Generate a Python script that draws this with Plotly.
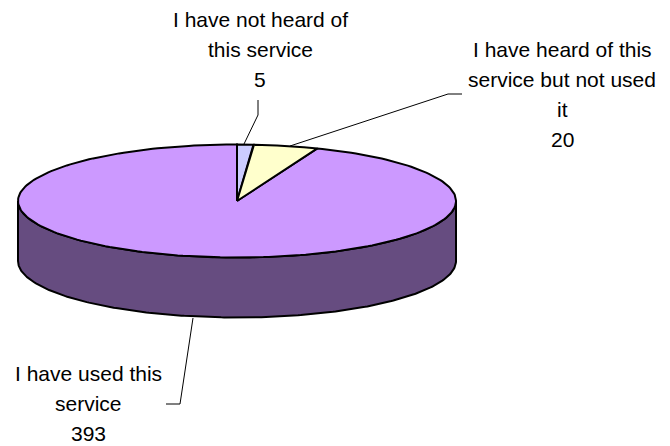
import numpy as np
import plotly.graph_objects as go

categories = ["I have not heard of this service",
              "I have heard of this service but not used it",
              "I have used this service"]
values = [5, 20, 393]
label_lines = [["I have not heard of", "this service"],
               ["I have heard of this", "service but not used", "it"],
               ["I have used this", "service"]]
colors = ["#CCCCFF", "#FFFFCC", "#CC99FF"]
side_color = "#664C80"

W, H = 670, 446
CX, CY, RX, RY, DEPTH = 237, 201, 219, 56.5, 60
OUTLINE = dict(color="black", width=2)


def rim(a0, a1, n=240, dy=0.0):
    t = np.linspace(a0, a1, n)
    return CX + RX * np.sin(t), CY + dy - RY * np.cos(t)


fig = go.Figure()

# side wall (front half of the rim, dropped by the pie's depth)
tx, ty = rim(np.pi / 2, 3 * np.pi / 2)
bx, by = rim(3 * np.pi / 2, np.pi / 2, dy=DEPTH)
fig.add_trace(go.Scatter(x=np.r_[tx, bx, tx[0]], y=np.r_[ty, by, ty[0]],
                         mode="lines", fill="toself", fillcolor=side_color,
                         line=OUTLINE, hoverinfo="skip", showlegend=False))

# top slices, clockwise from 12 o'clock
fractions = np.cumsum([0] + values) / sum(values) * 2 * np.pi
order = [2, 0, 1]
for i in order:
    ex, ey = rim(fractions[i], fractions[i + 1])
    fig.add_trace(go.Scatter(x=np.r_[CX, ex, CX], y=np.r_[CY, ey, CY],
                             mode="lines", fill="toself", fillcolor=colors[i],
                             line=OUTLINE, name=categories[i],
                             hoverinfo="skip", showlegend=False))

# leader lines
leaders = [[(258, 100), (258, 115), (244, 144)],
           [(462, 94), (448, 94), (290, 146)],
           [(193, 318), (180, 404), (166, 404)]]
for pts in leaders:
    fig.add_trace(go.Scatter(x=[p[0] for p in pts], y=[p[1] for p in pts],
                             mode="lines", line=dict(color="black", width=1),
                             hoverinfo="skip", showlegend=False))

# data labels, one annotation per line
label_pos = [(260, 19), (562, 49), (88, 373)]
for lines, val, (x, y) in zip(label_lines, values, label_pos):
    for k, s in enumerate(lines + [str(val)]):
        fig.add_annotation(x=x, y=y + 30 * k, text=s, showarrow=False,
                           xanchor="center", yanchor="middle",
                           font=dict(family="Liberation Sans, Arial, sans-serif",
                                     size=21, color="black"))

fig.update_layout(width=W, height=H, margin=dict(l=0, r=0, t=0, b=0),
                  paper_bgcolor="white", plot_bgcolor="white", showlegend=False,
                  xaxis=dict(range=[0, W], visible=False, fixedrange=True),
                  yaxis=dict(range=[H, 0], visible=False, fixedrange=True))
fig.write_html("out.html", config={"displayModeBar": False},
               post_script="document.body.style.margin='0';document.body.style.overflow='hidden';")
